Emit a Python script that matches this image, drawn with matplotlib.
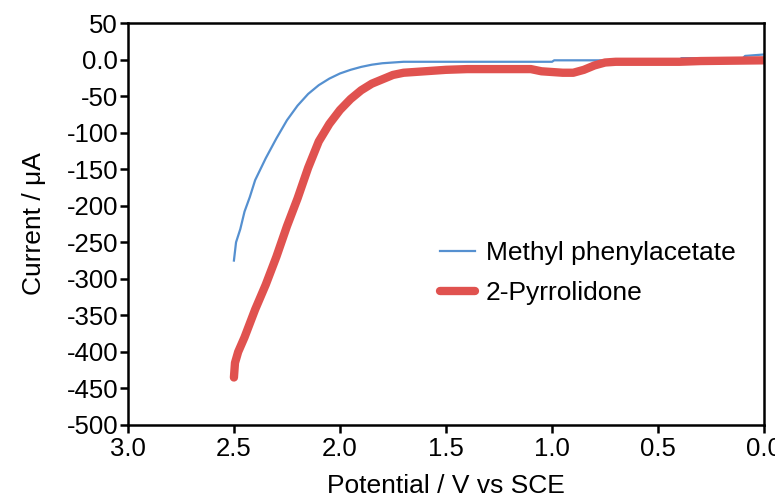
import numpy as np
import matplotlib
matplotlib.use("Agg")
import matplotlib.pyplot as plt

# data
blue_v = [2.50, 2.49, 2.47, 2.45, 2.425, 2.40, 2.35, 2.30, 2.25, 2.20, 2.15, 2.10,
          2.05, 2.00, 1.95, 1.90, 1.85, 1.80, 1.75, 1.70, 1.50, 1.20, 1.00, 0.99,
          0.70, 0.40, 0.39, 0.10, 0.09, 0.00]
blue_i = [-275, -250, -232, -208, -188, -165, -135, -108, -83, -63, -47, -35,
          -26, -19, -14, -10, -7, -5, -4, -3, -3, -3, -3, -1,
          -1, -1, 2, 2, 5, 7]

red_v = [2.50, 2.495, 2.48, 2.45, 2.40, 2.35, 2.30, 2.25, 2.20, 2.15, 2.10, 2.05,
         2.00, 1.95, 1.90, 1.85, 1.80, 1.75, 1.70, 1.60, 1.50, 1.40, 1.20, 1.10,
         1.05, 0.95, 0.90, 0.85, 0.80, 0.75, 0.70, 0.40, 0.30, 0.00]
red_i = [-435, -415, -400, -380, -342, -308, -270, -228, -190, -148, -112, -88,
         -69, -54, -42, -33, -27, -21, -18, -16, -14, -13, -13, -13,
         -16, -18, -18, -14, -8, -4, -3, -3, -2, -1]

x_ticks = [3.0, 2.5, 2.0, 1.5, 1.0, 0.5, 0.0]
x_labels = ["3.0", "2.5", "2.0", "1.5", "1.0", "0.5", "0.0"]
y_ticks = list(range(50, -501, -50))
y_labels = ["50", "0.0"] + [str(t) for t in y_ticks[2:]]

plt.rcParams['font.family'] = ['Liberation Sans', 'DejaVu Sans']

fig = plt.figure(figsize=(7.75, 5.01), dpi=100)
ax = fig.add_axes([0.165, 0.1517, 0.821, 0.8023])

ax.plot(blue_v, blue_i, color='#5590d0', lw=1.6, label='Methyl phenylacetate')
ax.plot(red_v, red_i, color='#e0524f', lw=6, label='2-Pyrrolidone', solid_capstyle='round')

ax.set_xlim(3.0, 0.0)
ax.set_ylim(-500, 50)
ax.set_xticks(x_ticks)
ax.set_xticklabels(x_labels)
ax.set_yticks(y_ticks)
ax.set_yticklabels(y_labels)

for s in ax.spines.values():
    s.set_linewidth(1.8)
ax.tick_params(direction='out', length=6, width=1.8, labelsize=18.5)
ax.tick_params(axis='y', pad=1)
ax.tick_params(axis='x', pad=3)

ax.set_xlabel('Potential / V vs SCE', fontsize=19, labelpad=9)
ax.set_ylabel('Current / \u03bcA', fontsize=19, labelpad=15)

ax.legend(loc='upper left', bbox_to_anchor=(0.49, 0.458), frameon=False,
          borderaxespad=0, borderpad=0, handlelength=1.35, handletextpad=0.4,
          labelspacing=0.6, fontsize=19)

fig.savefig('out.png', dpi=100)
